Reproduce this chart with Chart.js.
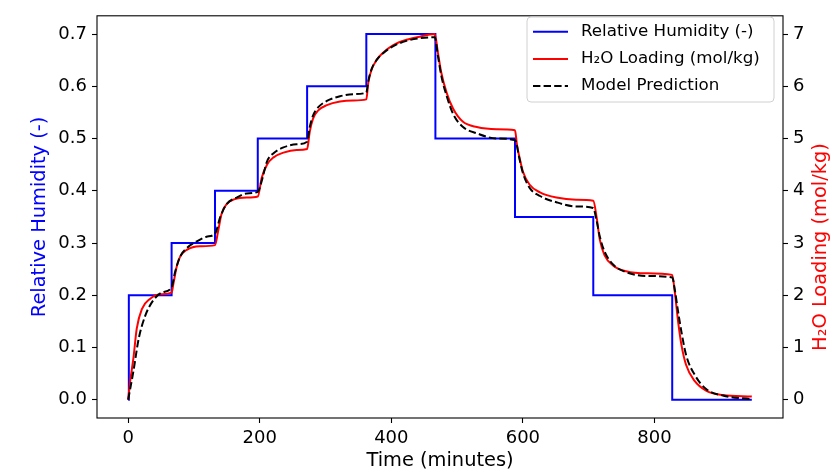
<!DOCTYPE html>
<html>
<head>
<meta charset="utf-8">
<script src="https://cdn.jsdelivr.net/npm/chart.js@4.4.0/dist/chart.umd.min.js"></script>
<style>
  html, body { margin: 0; padding: 0; background: #fff; }
</style>
</head>
<body>
<canvas id="chart" width="836" height="474"></canvas>
<script>
// relative humidity set-points (step changes)
const rhTime = [0, 1, 66, 132, 197, 272, 362, 467, 588, 707, 827, 948];
const rhValue = [0, 0.2, 0.3, 0.4, 0.5, 0.6, 0.7, 0.5, 0.35, 0.2, 0.0, 0.0];

// measured H2O loading (mol/kg)
const loadTime = [
  0, 3, 8, 13, 21, 33, 49, 66,
  69, 74, 79, 89, 109, 132,
  137, 142, 150, 162, 180, 197,
  203, 211, 221, 236, 256, 272,
  276, 281, 289, 302, 322, 342, 362,
  365, 370, 378, 388, 403, 423, 443, 466,
  471, 476, 484, 494, 509, 530, 560, 588,
  591, 595, 600, 610, 626, 651, 681, 707,
  712, 717, 724, 737, 757, 788, 827,
  831, 836, 841, 848, 861, 879, 904, 948
];
const loadValue = [
  0, 0.35, 0.80, 1.36, 1.74, 1.93, 2.02, 2.05,
  2.24, 2.56, 2.74, 2.87, 2.94, 2.96,
  3.25, 3.56, 3.75, 3.84, 3.87, 3.89,
  4.25, 4.50, 4.64, 4.73, 4.78, 4.80,
  5.13, 5.38, 5.54, 5.64, 5.71, 5.73, 5.75,
  6.07, 6.32, 6.51, 6.65, 6.79, 6.89, 6.95, 7.00,
  6.63, 6.26, 5.88, 5.57, 5.32, 5.22, 5.18, 5.16,
  4.88, 4.63, 4.37, 4.12, 3.97, 3.87, 3.83, 3.81,
  3.50, 3.06, 2.77, 2.57, 2.46, 2.42, 2.39,
  2.05, 1.49, 1.05, 0.67, 0.36, 0.17, 0.09, 0.06
];

// model prediction (mol/kg)
const modelTime = [
  0, 8, 16, 26, 38, 51, 66,
  71, 79, 89, 104, 119, 132,
  140, 150, 165, 180, 197,
  203, 211, 221, 236, 256, 272,
  276, 281, 289, 302, 322, 342, 362,
  365, 370, 378, 388, 403, 423, 443, 466,
  471, 476, 484, 494, 509, 530, 560, 588,
  595, 600, 610, 626, 651, 681, 707,
  712, 717, 724, 737, 757, 788, 827,
  831, 836, 841, 848, 861, 879, 904, 948
];
const modelValue = [
  0, 0.55, 1.17, 1.61, 1.90, 2.05, 2.15,
  2.43, 2.74, 2.90, 3.03, 3.12, 3.18,
  3.50, 3.75, 3.87, 3.95, 3.98,
  4.19, 4.56, 4.72, 4.83, 4.89, 4.94,
  5.22, 5.44, 5.60, 5.72, 5.81, 5.85, 5.88,
  6.10, 6.33, 6.51, 6.64, 6.77, 6.87, 6.92, 6.94,
  6.57, 6.20, 5.82, 5.47, 5.22, 5.10, 5.00, 4.97,
  4.60, 4.34, 4.06, 3.90, 3.78, 3.70, 3.67,
  3.43, 3.12, 2.84, 2.59, 2.44, 2.37, 2.34,
  2.10, 1.68, 1.30, 0.86, 0.48, 0.20, 0.08, 0.01
];

const xTicks = [0, 200, 400, 600, 800];
const rhTicks = [0, 0.1, 0.2, 0.3, 0.4, 0.5, 0.6, 0.7];
const loadTicks = [0, 1, 2, 3, 4, 5, 6, 7];

const xTitle = "Time (minutes)";
const rhTitle = "Relative Humidity (-)";
const loadTitle = "H\u2082O Loading (mol/kg)";

const FONT = "'DejaVu Sans', 'Liberation Sans', sans-serif";
const tickFont = { family: FONT, size: 18 };

function pts(xs, ys) {
  return xs.map((x, i) => ({ x: x, y: ys[i] }));
}

// frame, axis titles and an in-plot legend drawn like matplotlib
const decorations = {
  id: "decorations",
  afterDraw(chart) {
    const ctx = chart.ctx;
    const a = chart.chartArea;
    ctx.save();
    ctx.strokeStyle = "#000";
    ctx.lineWidth = 1.1;
    ctx.strokeRect(a.left, a.top, a.right - a.left, a.bottom - a.top);

    ctx.font = "19.4px " + FONT;
    ctx.textAlign = "center";
    ctx.textBaseline = "middle";
    ctx.fillStyle = "#000";
    ctx.fillText(xTitle, (a.left + a.right) / 2, 461);

    ctx.save();
    ctx.translate(40, (a.top + a.bottom) / 2);
    ctx.rotate(-Math.PI / 2);
    ctx.fillStyle = "#0000ff";
    ctx.fillText(rhTitle, 0, 0);
    ctx.restore();

    ctx.save();
    ctx.translate(821, 247);
    ctx.rotate(-Math.PI / 2);
    ctx.fillStyle = "#ff0000";
    ctx.fillText(loadTitle, 0, 0);
    ctx.restore();

    // legend
    const bx = 527, by = 17, bw = 247, bh = 85;
    ctx.globalAlpha = 0.8;
    ctx.fillStyle = "#fff";
    ctx.beginPath();
    ctx.roundRect(bx, by, bw, bh, 4);
    ctx.fill();
    ctx.globalAlpha = 1;
    ctx.strokeStyle = "#d0d0d0";
    ctx.lineWidth = 1;
    ctx.stroke();

    ctx.font = "16.7px " + FONT;
    ctx.textAlign = "left";
    ctx.fillStyle = "#000";
    chart.data.datasets.forEach((ds, i) => {
      const y = 31.7 + i * 27.2;
      ctx.beginPath();
      ctx.strokeStyle = ds.borderColor;
      ctx.lineWidth = ds.borderWidth;
      ctx.setLineDash(ds.borderDash || []);
      ctx.moveTo(533, y);
      ctx.lineTo(568, y);
      ctx.stroke();
      ctx.setLineDash([]);
      ctx.fillText(ds.label, 581, y);
    });
    ctx.restore();
  }
};

const tickGrid = {
  display: true,
  drawOnChartArea: false,
  drawTicks: true,
  tickLength: 5,
  tickColor: "#000",
  tickWidth: 1.1
};

new Chart(document.getElementById("chart"), {
  type: "line",
  data: {
    datasets: [
      {
        label: rhTitle,
        data: pts(rhTime, rhValue),
        yAxisID: "yRH",
        borderColor: "#0000ff",
        borderWidth: 2,
        stepped: "before",
        pointRadius: 0,
        order: 3
      },
      {
        label: loadTitle,
        data: pts(loadTime, loadValue),
        yAxisID: "yLoad",
        borderColor: "#ff0000",
        borderWidth: 2,
        cubicInterpolationMode: "monotone",
        pointRadius: 0,
        order: 2
      },
      {
        label: "Model Prediction",
        data: pts(modelTime, modelValue),
        yAxisID: "yLoad",
        borderColor: "#000000",
        borderWidth: 2,
        borderDash: [7.4, 3.2],
        cubicInterpolationMode: "monotone",
        pointRadius: 0,
        order: 1
      }
    ]
  },
  options: {
    responsive: false,
    animation: false,
    layout: { padding: { top: 9, left: 0, right: 0, bottom: 0 } },
    plugins: {
      legend: { display: false },
      tooltip: { enabled: false }
    },
    scales: {
      x: {
        type: "linear",
        min: -47.4,
        max: 995.4,
        afterBuildTicks: (s) => { s.ticks = xTicks.map((v) => ({ value: v })); },
        afterFit: (s) => { s.height = 56; },
        ticks: { font: tickFont, color: "#000", padding: 5, maxRotation: 0 },
        grid: tickGrid,
        border: { display: false }
      },
      yRH: {
        type: "linear",
        position: "left",
        min: -0.035,
        max: 0.735,
        afterBuildTicks: (s) => { s.ticks = rhTicks.map((v) => ({ value: v })); },
        afterFit: (s) => { s.width = 97; },
        ticks: { font: tickFont, color: "#000", padding: 5, callback: (v) => v.toFixed(1) },
        grid: tickGrid,
        border: { display: false }
      },
      yLoad: {
        type: "linear",
        position: "right",
        min: -0.35,
        max: 7.35,
        afterBuildTicks: (s) => { s.ticks = loadTicks.map((v) => ({ value: v })); },
        afterFit: (s) => { s.width = 53; },
        ticks: { font: tickFont, color: "#000", padding: 5, callback: (v) => String(v) },
        grid: tickGrid,
        border: { display: false }
      }
    }
  },
  plugins: [decorations]
});
</script>
</body>
</html>
